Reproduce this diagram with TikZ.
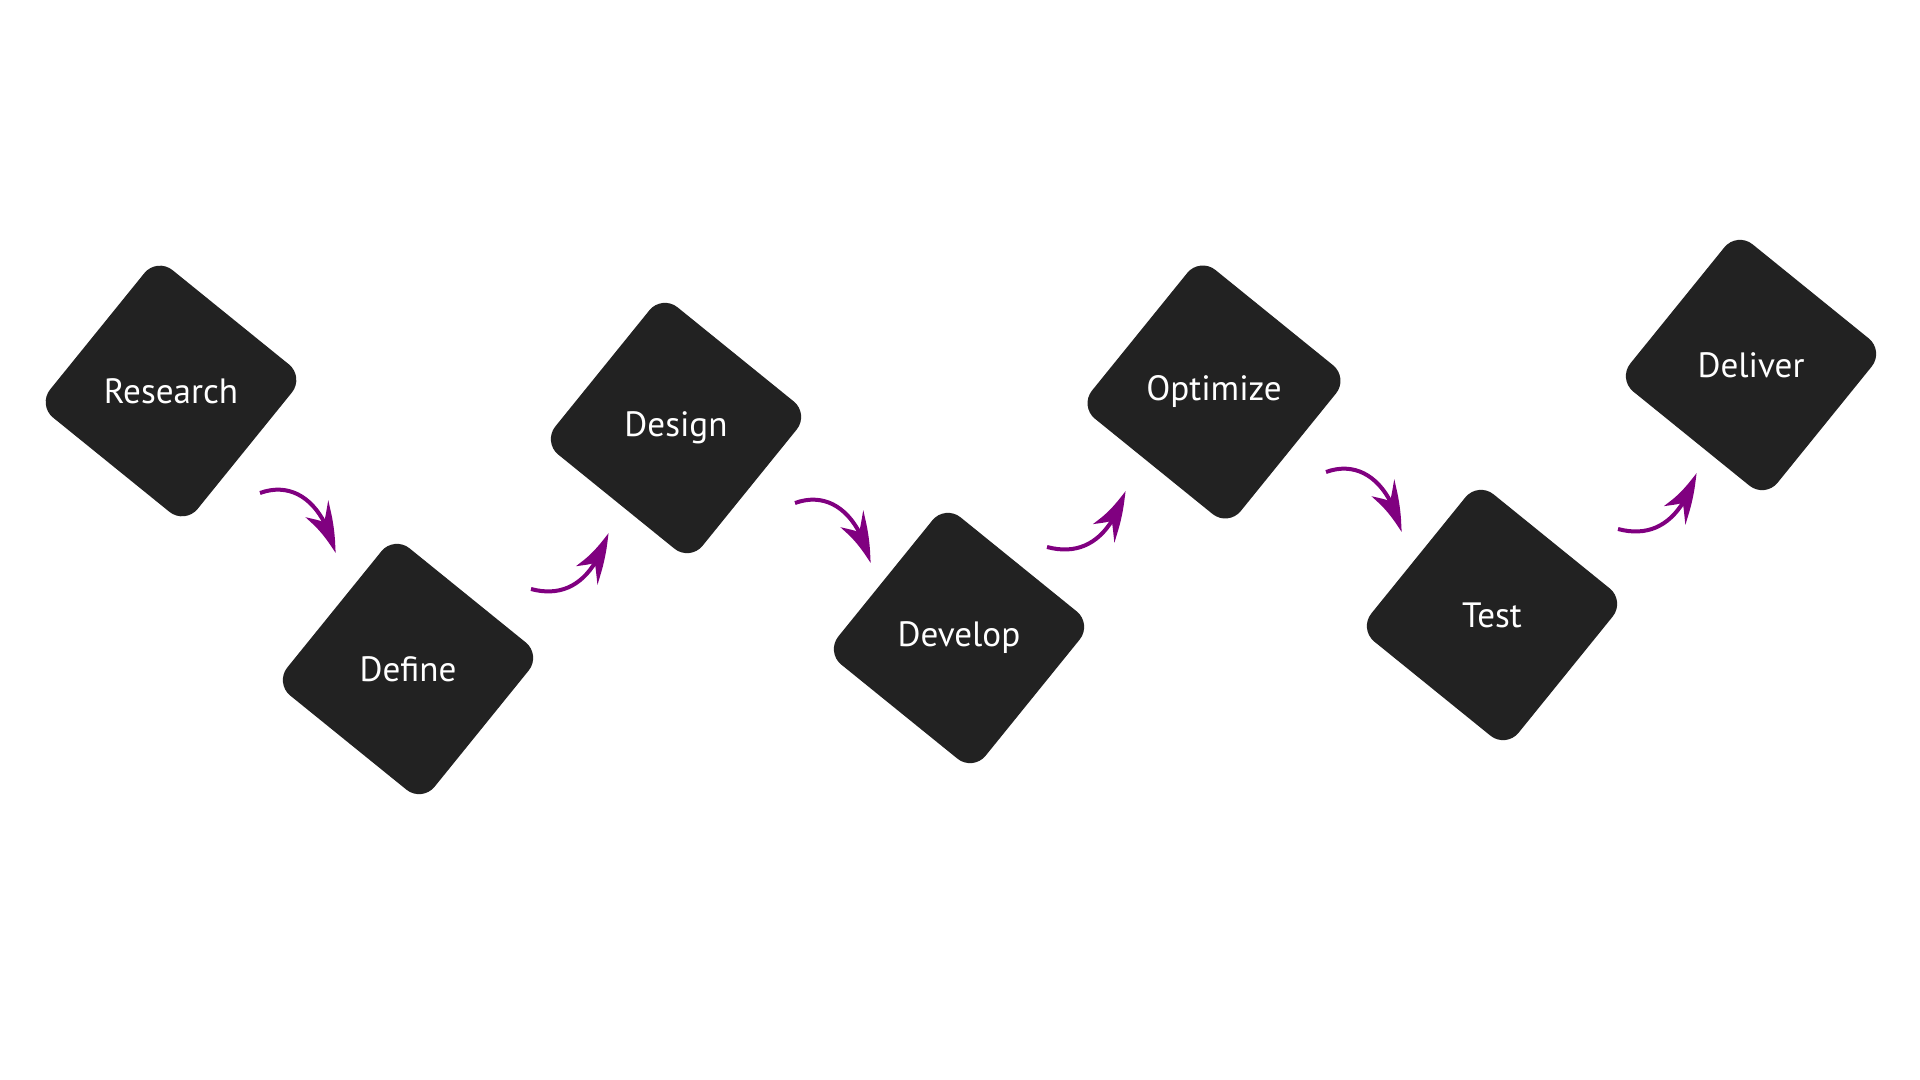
\documentclass[tikz,border=0pt]{standalone}
\usepackage{fontspec}
\setmainfont{PT Sans}
\usetikzlibrary{shapes.geometric,arrows.meta,bending}
\definecolor{stepgray}{HTML}{222222}
\definecolor{flowpurple}{HTML}{800080}
\tikzstyle{stepbox} = [regular polygon, regular polygon sides=4,
shape border rotate=51, minimum size=2.68cm, inner sep=0pt,
fill=stepgray, rounded corners=0.2cm, text=white,
font=\fontsize{10}{12}\selectfont]
\tikzstyle{flowarrow} = [draw=flowpurple, line width=0.04cm,
-{Stealth[length=0.5cm, width=0.28cm, inset=0.17cm, bend]}]
\begin{document}
\begin{tikzpicture}
		\useasboundingbox (0,0) rectangle (19.2,-10.8);
		%steps
		\node [stepbox] (research) at (1.71,-3.91) {Research};
		\node [stepbox] (define) at (4.08,-6.69) {Define};
		\node [stepbox] (design) at (6.76,-4.28) {Design};
		\node [stepbox] (develop) at (9.59,-6.38) {Develop};
		\node [stepbox] (optimize) at (12.14,-3.92) {Optimize};
		\node [stepbox] (test) at (14.92,-6.15) {Test};
		\node [stepbox] (deliver) at (17.51,-3.65) {Deliver};
		
		\coordinate (a1s) at (2.60,-4.93);
		\coordinate (a1e) at (3.35,-5.53);
		\coordinate (a2s) at (5.31,-5.89);
		\coordinate (a2e) at (6.08,-5.33);
		\coordinate (a3s) at (7.95,-5.03);
		\coordinate (a3e) at (8.70,-5.63);
		\coordinate (a4s) at (10.47,-5.47);
		\coordinate (a4e) at (11.25,-4.91);
		\coordinate (a5s) at (13.26,-4.72);
		\coordinate (a5e) at (14.01,-5.32);
		\coordinate (a6s) at (16.18,-5.29);
		\coordinate (a6e) at (16.96,-4.73);
		
		\draw [flowarrow] (a1s) to[out=20, in=102, in looseness=1.3] (a1e);
		\draw [flowarrow] (a2s) to[out=-15, in=253, in looseness=1.3] (a2e);
		\draw [flowarrow] (a3s) to[out=20, in=102, in looseness=1.3] (a3e);
		\draw [flowarrow] (a4s) to[out=-15, in=253, in looseness=1.3] (a4e);
		\draw [flowarrow] (a5s) to[out=20, in=102, in looseness=1.3] (a5e);
		\draw [flowarrow] (a6s) to[out=-15, in=253, in looseness=1.3] (a6e);
\end{tikzpicture}
\end{document}
